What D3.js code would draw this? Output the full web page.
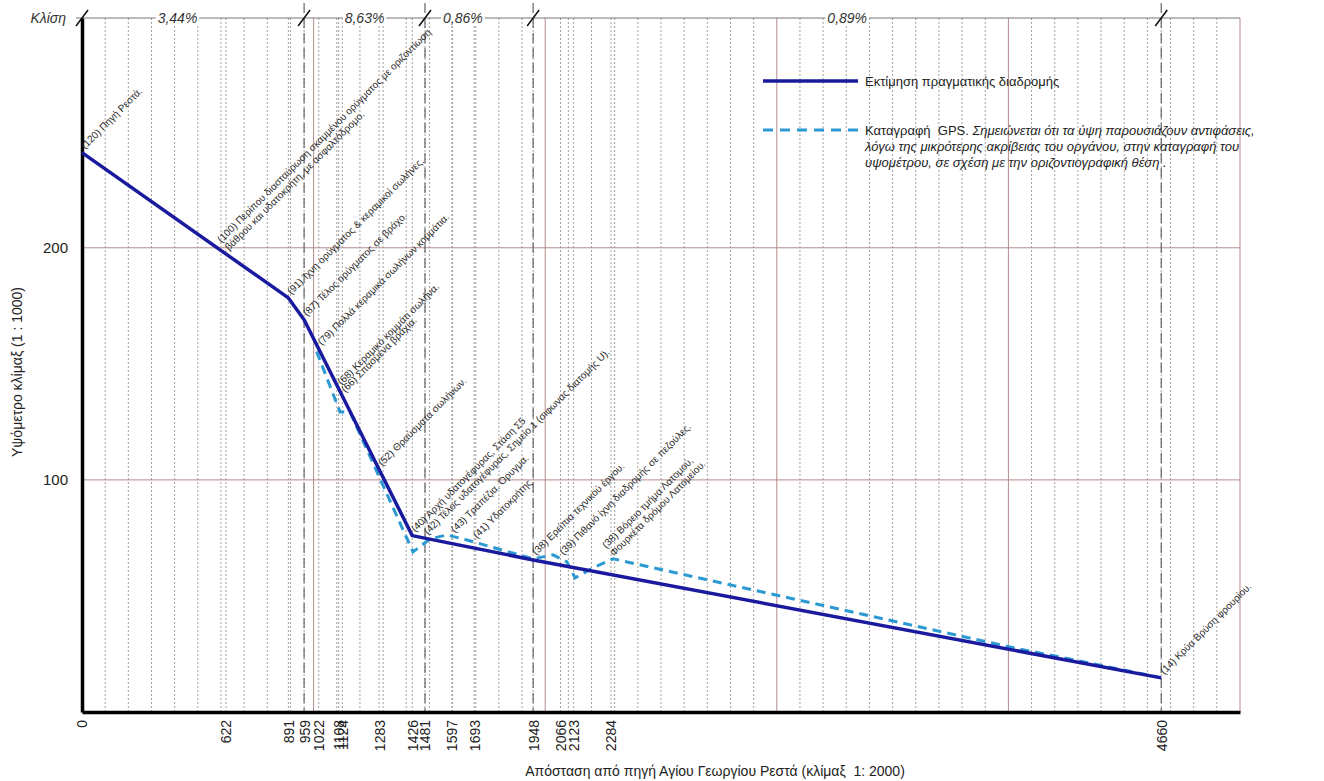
<!DOCTYPE html>
<html>
<head>
<meta charset="utf-8">
<script src="https://cdn.jsdelivr.net/npm/d3@7"></script>
<style>
  body { margin: 0; background: #fff; }
  svg { font-family: "Liberation Sans", Arial, sans-serif; }
</style>
</head>
<body>
<svg width="1324" height="781"></svg>
<script>
// stations on the x axis (distance from the spring)
const stations = [0, 622, 891, 959, 1022, 1108, 1124, 1283, 1426, 1481, 1597, 1693, 1948, 2066, 2123, 2284, 4660];

// estimated real route
const routeDist = [0, 891, 959, 1426, 1948, 4660];
const routeElev = [241, 178.4, 169, 76, 65.5, 14.7];

// GPS record
const gpsDist = [1013, 1114, 1157, 1429, 1503, 1576, 1662, 1948, 2034, 2094, 2129, 2206, 2293, 4007, 4646];
const gpsElev = [155.3, 129.3, 129.3, 69, 74.6, 76.3, 74.1, 66, 67.7, 64.7, 57.8, 62.1, 66, 28, 15.1];

// slope segments
const slopeBreaks = [0, 959, 1481, 1948, 4660];
const slopeLabels = ["3,44%", "8,63%", "0,86%", "0,89%"];

// notes at stations
const noteDist = [0, 622, 891, 959, 1022, 1108, 1124, 1283, 1426, 1481, 1597, 1693, 1948, 2066, 2284, 4660];
const noteText = [
  ["(120) Πηγή Ρεστά."],
  ["(100) Περίπου διασταύρωση σκαμμένου ορύγματος με οριζοντίωση", "βάθρου και υδατοκρήτη, με ασφαλτόδρομο."],
  ["(91) Ίχνη ορύγματος & κεραμικοί σωλήνες."],
  ["(87) Τέλος ορύγματος σε βράχο."],
  ["(79) Πολλά κεραμικά σωλήνων κομμάτια."],
  ["(68) Κεραμικό κομμάτι σωλήνα."],
  ["(66) Σπασμένα βράχια."],
  ["(52) Θραύσματα σωλήνων."],
  ["(40) Αρχή υδατογέφυρας, Στάση Σ5"],
  ["(42) Τέλος υδατογέφυρας, Σημείο 1 (σιφωνας διατομής U)."],
  ["(43) Τραπέζια. Όρυγμα."],
  ["(41) Υδατοκρήτης."],
  ["(38) Ερείπια τεχνικού έργου."],
  ["(39) Πιθανό ίχνη διαδρομής σε πεζούλες."],
  ["(38) Βόρειο τμήμα Λατομού,", "Φουρκέτα δρόμου Λατομείου."],
  ["(14) Κρύα Βρύση φρουρίου."]
];

const yTicks = [100, 200];

const svg = d3.select("svg");
const x = d3.scaleLinear().domain([0, 5000]).range([82, 1240]);
const y = d3.scaleLinear().domain([0, 299]).range([712, 18]);

const route = routeDist.map((d, i) => [d, routeElev[i]]);
const gps = gpsDist.map((d, i) => [d, gpsElev[i]]);

// minor dotted grid every 100 plus at each station
const minor = d3.range(100, 5000, 100).filter(d => d % 1000 !== 0)
  .concat(stations.filter(d => d > 0));
svg.append("g").selectAll("line").data(minor).enter().append("line")
  .attr("x1", d => x(d)).attr("x2", d => x(d))
  .attr("y1", y(299)).attr("y2", y(0))
  .attr("stroke", "#a0a0a0").attr("stroke-width", 1)
  .attr("stroke-dasharray", "2,2");

// major red grid
const red = "#b58a8a";
svg.append("g").selectAll("line").data([1000, 2000, 3000, 4000, 5000]).enter().append("line")
  .attr("x1", d => x(d)).attr("x2", d => x(d))
  .attr("y1", y(299)).attr("y2", y(0))
  .attr("stroke", red).attr("stroke-width", 1);
svg.append("g").selectAll("line").data(yTicks).enter().append("line")
  .attr("x1", x(0)).attr("x2", x(5000))
  .attr("y1", d => y(d)).attr("y2", d => y(d))
  .attr("stroke", red).attr("stroke-width", 1);

// slope break dashed lines
svg.append("g").selectAll("line").data(slopeBreaks.slice(1)).enter().append("line")
  .attr("x1", d => x(d)).attr("x2", d => x(d))
  .attr("y1", 3).attr("y2", y(0))
  .attr("stroke", "#666").attr("stroke-width", 1.2)
  .attr("stroke-dasharray", "10,5");

// slope row
svg.append("line")
  .attr("x1", x(0) - 6).attr("x2", x(5000))
  .attr("y1", y(299)).attr("y2", y(299))
  .attr("stroke", "#777").attr("stroke-width", 1);

svg.append("text")
  .attr("x", 66).attr("y", y(299) + 5)
  .attr("text-anchor", "end")
  .attr("font-size", 14).attr("font-style", "italic").attr("fill", "#333")
  .text("Κλίση");

// label position inside each segment (fraction of the segment)
const slopePos = [0.43, 0.5, 0.35, 0.5];
const slopeG = svg.append("g");
slopeLabels.forEach((s, i) => {
  const x0 = x(slopeBreaks[i]), x1 = x(slopeBreaks[i + 1]);
  const t = slopeG.append("text")
    .attr("x", x0 + (x1 - x0) * slopePos[i]).attr("y", y(299) + 5)
    .attr("text-anchor", "middle")
    .attr("font-size", 14).attr("font-style", "italic").attr("fill", "#333")
    .text(s);
  const bb = t.node().getBBox();
  slopeG.insert("rect", "text")
    .attr("x", bb.x - 2).attr("y", bb.y).attr("width", bb.width + 4).attr("height", bb.height)
    .attr("fill", "#fff");
});

svg.append("g").selectAll("line").data(slopeBreaks).enter().append("line")
  .attr("x1", d => x(d) - 6).attr("x2", d => x(d) + 6)
  .attr("y1", y(299) + 8).attr("y2", y(299) - 8)
  .attr("stroke", "#111").attr("stroke-width", 1.5);

// axes
const yAxis = svg.append("g")
  .attr("transform", `translate(${x(0)},0)`)
  .call(d3.axisLeft(y).tickValues(yTicks).tickSize(0).tickPadding(14).tickSizeOuter(0));
yAxis.select(".domain").attr("stroke", "#000").attr("stroke-width", 3.5);
yAxis.selectAll("text").attr("font-size", 15).attr("fill", "#222")
  .attr("font-family", "Liberation Sans, Arial, sans-serif");

const xAxis = svg.append("g")
  .attr("transform", `translate(0,${y(0)})`)
  .call(d3.axisBottom(x).tickValues(stations).tickSize(0).tickSizeOuter(0).tickFormat(d3.format("d")));
xAxis.select(".domain").attr("stroke", "#000").attr("stroke-width", 3.5);
xAxis.selectAll("text")
  .attr("transform", "rotate(-90)")
  .attr("x", -8).attr("y", 0).attr("dy", "0.35em")
  .attr("text-anchor", "end")
  .attr("font-size", 14).attr("fill", "#222")
  .attr("font-family", "Liberation Sans, Arial, sans-serif");

svg.append("text")
  .attr("transform", `translate(22,372) rotate(-90)`)
  .attr("text-anchor", "middle")
  .attr("font-size", 14).attr("fill", "#222")
  .text("Υψόμετρο κλίμαξ (1 : 1000)");

svg.append("text")
  .attr("x", 715).attr("y", 776)
  .attr("text-anchor", "middle")
  .attr("font-size", 14).attr("fill", "#222")
  .attr("xml:space", "preserve")
  .text("Απόσταση από πηγή Αγίου Γεωργίου Ρεστά (κλίμαξ  1: 2000)");

// lines
const line = d3.line().x(d => x(d[0])).y(d => y(d[1]));
svg.append("path").datum(gps)
  .attr("d", line).attr("fill", "none")
  .attr("stroke", "#2b9ad3").attr("stroke-width", 3)
  .attr("stroke-dasharray", "9,6");
svg.append("path").datum(route)
  .attr("d", line).attr("fill", "none")
  .attr("stroke", "#1a1a9e").attr("stroke-width", 3.5)
  .attr("stroke-linejoin", "round");

// notes, anchored on the upper of the two tracks
const interp = (xs, ys, v) => {
  if (v < xs[0] || v > xs[xs.length - 1]) return null;
  const i = Math.max(1, d3.bisectLeft(xs, v));
  const t = (v - xs[i - 1]) / (xs[i] - xs[i - 1]);
  return ys[i - 1] + t * (ys[i] - ys[i - 1]);
};
const notes = svg.append("g").attr("font-size", 10).attr("fill", "#2a2a2a");
noteDist.forEach((d, i) => {
  const e1 = interp(routeDist, routeElev, d);
  const e2 = interp(gpsDist, gpsElev, d);
  const e = e2 === null ? e1 : Math.max(e1, e2);
  const lines = noteText[i];
  const t = notes.append("text")
    .attr("transform", `translate(${x(d) + 3},${y(e) - 3}) rotate(-45)`);
  lines.forEach((s, j) => {
    t.append("tspan")
      .attr("x", 0)
      .attr("y", (j - (lines.length - 1)) * 11)
      .text(s);
  });
});

// legend
const lg = svg.append("g").attr("font-size", 13).attr("fill", "#222");
lg.append("line").attr("x1", 763).attr("x2", 858).attr("y1", 81).attr("y2", 81)
  .attr("stroke", "#1a1a9e").attr("stroke-width", 3.5);
lg.append("text").attr("x", 865).attr("y", 86).text("Εκτίμηση πραγματικής διαδρομής");
lg.append("line").attr("x1", 763).attr("x2", 858).attr("y1", 130).attr("y2", 130)
  .attr("stroke", "#2b9ad3").attr("stroke-width", 3).attr("stroke-dasharray", "10,7");
const gl = lg.append("text").attr("x", 865).attr("y", 135).attr("xml:space", "preserve");
gl.append("tspan").text("Καταγραφή  GPS. ");
gl.append("tspan").attr("font-style", "italic").text("Σημειώνεται ότι τα ύψη παρουσιάζουν αντιφάσεις,");
lg.append("text").attr("x", 865).attr("y", 151).attr("font-style", "italic")
  .text("λόγω της μικρότερης ακρίβειας του οργάνου, στην καταγραφή του");
lg.append("text").attr("x", 865).attr("y", 167).attr("font-style", "italic")
  .text("υψομέτρου, σε σχέση με την οριζοντιογραφική θέση .");
</script>
</body>
</html>
